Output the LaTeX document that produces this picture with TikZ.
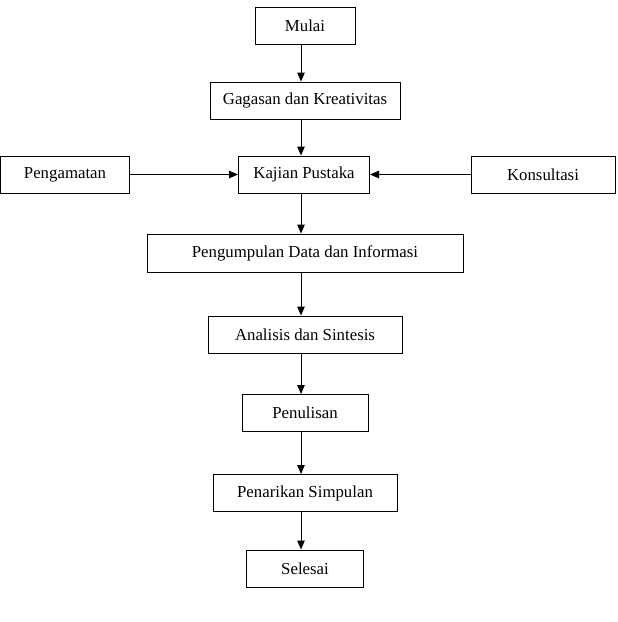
\documentclass[tikz,border=0pt]{standalone}
\usepackage{fontspec}
\setmainfont{Liberation Serif}
\usetikzlibrary{arrows.meta}
\begin{document}
\begin{tikzpicture}[x=1pt,y=-1pt,
  box/.style={draw, line width=1pt, rectangle, minimum height=37pt, inner sep=0pt, font=\fontsize{16.8}{19}\selectfont},
  arr/.style={line width=1pt, -{Triangle[length=9pt,width=7.5pt]}}]
\useasboundingbox (0,0) rectangle (618,622);
\coordinate (col) at (301,0);
\node[box, minimum width=100pt] (mulai) at (305,25.5) {Mulai};
\node[box, minimum width=190pt] (gagasan) at (305,100.5) {Gagasan dan Kreativitas};
\node[box, minimum width=129pt] (peng) at (65,174.5) {Pengamatan};
\node[box, minimum width=131pt] (kajian) at (304,174.5) {Kajian Pustaka};
\node[box, minimum width=144pt] (kons) at (543,174.5) {Konsultasi};
\node[box, minimum width=316pt, minimum height=38pt] (data) at (305,253) {Pengumpulan Data dan Informasi};
\node[box, minimum width=194pt] (analisis) at (305,334.5) {Analisis dan Sintesis};
\node[box, minimum width=126pt] (tulis) at (305,413) {Penulisan};
\node[box, minimum width=184pt] (tarik) at (305,493) {Penarikan Simpulan};
\node[box, minimum width=117pt] (selesai) at (305,568.5) {Selesai};
\draw[arr] (mulai.south -| col) -- (gagasan.north -| col);
\draw[arr] (gagasan.south -| col) -- (kajian.north -| col);
\draw[arr] (peng.east) -- (kajian.west);
\draw[arr] (kons.west) -- (kajian.east);
\draw[arr] (kajian.south -| col) -- (data.north -| col);
\draw[arr] (data.south -| col) -- (analisis.north -| col);
\draw[arr] (analisis.south -| col) -- (tulis.north -| col);
\draw[arr] (tulis.south -| col) -- (tarik.north -| col);
\draw[arr] (tarik.south -| col) -- (selesai.north -| col);
\end{tikzpicture}
\end{document}
